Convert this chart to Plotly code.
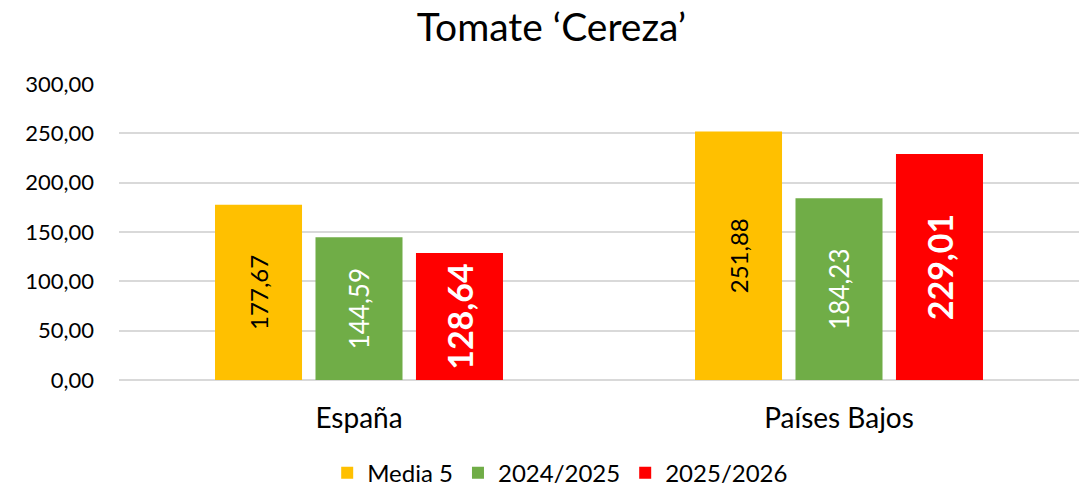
import plotly.graph_objects as go

# Chart data
categories = ["España", "Países Bajos"]
series_names = ["Media 5", "2024/2025", "2025/2026"]
media5 = [177.67, 251.88]
campaign_2024_2025 = [144.59, 184.23]
campaign_2025_2026 = [128.64, 229.01]
y_ticks = [0, 50, 100, 150, 200, 250, 300]

FONT = "Lato"
colors = ["#FFC000", "#70AD47", "#FF0000"]
text_styles = [
    dict(color="#000000", size=24, family=FONT),
    dict(color="#FFFFFF", size=26, family=FONT),
    dict(color="#FFFFFF", size=34, family=FONT, weight="bold"),
]


def fmt(v):
    return f"{v:.2f}".replace(".", ",")


fig = go.Figure()
for name, values, color, tfont in zip(
    series_names, [media5, campaign_2024_2025, campaign_2025_2026], colors, text_styles
):
    fig.add_trace(
        go.Bar(
            name=name,
            x=categories,
            y=values,
            marker=dict(color=color, line=dict(width=0)),
            text=[fmt(v) for v in values],
            textposition="inside",
            insidetextanchor="middle",
            textangle=-90,
            textfont=tfont,
            constraintext="none",
            hoverinfo="skip",
        )
    )

fig.update_layout(
    width=1092,
    height=495,
    margin=dict(l=119, r=13, t=84, b=115),
    paper_bgcolor="white",
    plot_bgcolor="white",
    barmode="group",
    bargap=0.372,
    bargroupgap=0.134,
    font=dict(family=FONT, color="#000000", size=22),
    title=dict(
        text="Tomate ‘Cereza’",
        x=0.505,
        xanchor="center",
        y=0.945,
        yanchor="middle",
        font=dict(size=39, family=FONT, color="#000000"),
    ),
    showlegend=True,
    legend=dict(
        orientation="h",
        xref="container",
        yref="container",
        x=0.513,
        xanchor="center",
        y=0.044,
        yanchor="middle",
        font=dict(size=24, family=FONT),
        traceorder="normal",
        itemwidth=30,
    ),
    xaxis=dict(
        range=[-0.5, 1.5],
        showgrid=False,
        showline=False,
        ticks="",
        tickfont=dict(size=28, family=FONT),
        ticklabelstandoff=19,
    ),
    yaxis=dict(
        range=[0, 300],
        tickvals=y_ticks,
        ticktext=[fmt(v) for v in y_ticks],
        showgrid=True,
        gridcolor="#D9D9D9",
        gridwidth=2,
        zeroline=True,
        zerolinecolor="#D9D9D9",
        zerolinewidth=2,
        showline=False,
        ticks="",
        tickfont=dict(size=22, family=FONT),
        ticklabelstandoff=24,
    ),
)

fig.write_html("out.html")
